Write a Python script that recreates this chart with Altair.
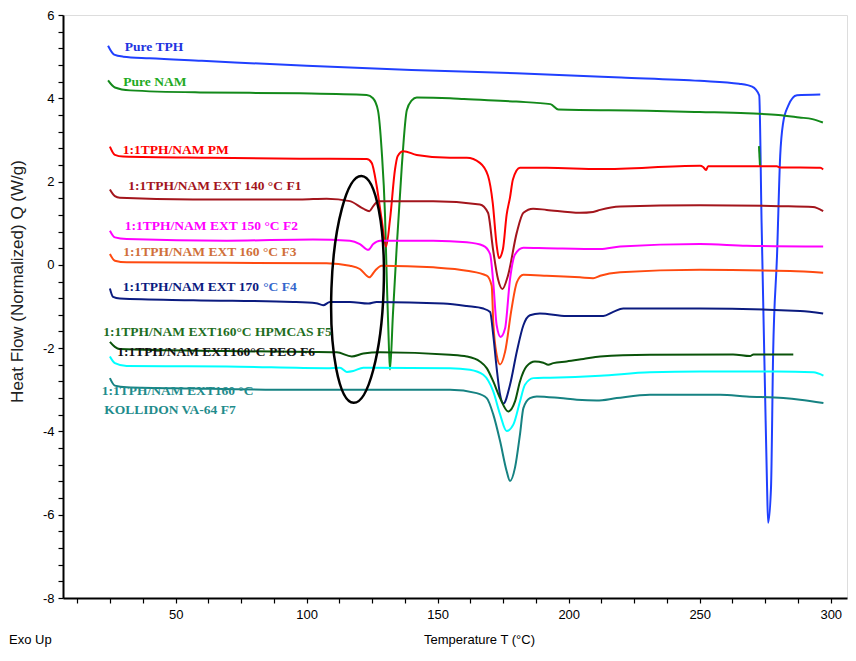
import altair as alt
import pandas as pd

# ---------------- data ----------------
TPH_T = [24.2, 26.5, 30, 40, 60, 100, 140, 180, 220, 250, 265, 270, 272.7, 273.6, 274.9, 275.7, 276.1,
         277.2, 278.0, 279.5, 280.7, 281.8, 283.7, 287.1, 296]
TPH_Q = [5.26, 5.05, 5.0, 4.96, 4.90, 4.78, 4.68, 4.60, 4.50, 4.42, 4.35, 4.28, 4.07, 1.02, -2.97, -5.35, -6.19,
         -5.35, -2.16, 0.23, 2.61, 3.40, 3.81, 4.07, 4.09]

NAM_T = [24.2, 26.8, 32.6, 59.3, 97.4, 122.9, 125.3, 127.2, 128.6, 129.9, 130.6, 131.4, 131.8, 132.9, 134.3,
         136.3, 138.2, 140.1, 142.0, 154.7, 160, 180, 193, 196, 230, 250, 268, 280, 288, 293, 297]
NAM_Q = [4.43, 4.26, 4.19, 4.14, 4.12, 4.08, 4.0, 3.71, 2.76, 1.18, -0.42, -2.01, -2.51, -1.20, 0.37,
         2.37, 3.71, 3.95, 4.02, 4.0, 3.98, 3.92, 3.86, 3.73, 3.70, 3.67, 3.64, 3.60, 3.54, 3.50, 3.42]

NAMX_T = [272.6, 273.0]
NAMX_Q = [2.85, 2.37]

PM_T = [24.9, 26.8, 29.9, 63.1, 97.4, 122.9, 124.8, 126.7, 128.6, 130.3, 131.8, 133.7, 134.7, 136.9, 142.0,
        154.7, 161.1, 166.1, 169.2, 171.0, 172.5, 173.4, 174.9, 176.3, 177.6, 178.7, 181.4, 191.6, 211.9,
        250.1, 251.3, 252.4, 253.2, 279.4, 280.6, 296.0, 297.1]
PM_Q = [2.84, 2.64, 2.60, 2.57, 2.55, 2.54, 2.45, 1.90, 1.09, 0.44, 1.09, 2.29, 2.61, 2.73, 2.64,
        2.57, 2.57, 2.45, 2.14, 1.49, 0.47, 0.16, 0.38, 1.20, 1.62, 2.05, 2.33, 2.33, 2.30,
        2.38, 2.35, 2.28, 2.37, 2.37, 2.34, 2.33, 2.29]

F1_T = [24.9, 26.8, 28.7, 56.6, 97.4, 107.6, 116.5, 121.6, 123.9, 125.4, 127.3, 148.3, 166.1, 169.2, 171.1,
        173.0, 174.7, 176.8, 180.2, 182.7, 186.4, 191.6, 204.3, 209.3, 212.0, 219.6, 250.1, 280.6, 293.2, 297.1]
F1_Q = [1.81, 1.65, 1.61, 1.57, 1.57, 1.59, 1.53, 1.35, 1.29, 1.41, 1.53, 1.53, 1.45, 1.25, 0.38,
        -0.34, -0.58, -0.26, 0.78, 1.25, 1.35, 1.32, 1.25, 1.27, 1.32, 1.40, 1.43, 1.41, 1.39, 1.29]

F2_T = [24.9, 26.8, 31.3, 69.5, 102.4, 116.5, 120.3, 123.5, 125.4, 128.0, 148.3, 161.1, 167.4, 170.0, 171.2,
        172.5, 174.0, 175.7, 177.6, 179.5, 182.7, 191.6, 212.0, 219.6, 250.1, 267.9, 297.1]
F2_Q = [0.82, 0.66, 0.62, 0.58, 0.61, 0.58, 0.50, 0.36, 0.50, 0.58, 0.58, 0.54, 0.46, 0.26, -0.42,
        -1.45, -1.73, -1.53, -0.34, 0.25, 0.41, 0.40, 0.38, 0.44, 0.50, 0.46, 0.44]

F3_T = [24.9, 26.8, 31.3, 107.6, 116.5, 120.3, 122.9, 123.9, 126.1, 128.6, 148.3, 161.1, 168.7, 170.6, 171.2,
        172.5, 173.8, 175.7, 178.2, 180.2, 182.7, 191.6, 204.3, 209.3, 212.0, 219.6, 250.1, 284.5, 297.1]
F3_Q = [0.26, 0.10, 0.06, 0.04, -0.02, -0.10, -0.26, -0.30, -0.14, -0.02, -0.06, -0.14, -0.26, -0.50, -1.37,
        -2.16, -2.39, -2.09, -1.05, -0.42, -0.24, -0.26, -0.30, -0.32, -0.26, -0.18, -0.12, -0.15, -0.19]

F4_T = [24.9, 26.1, 28.7, 56.7, 94.9, 103.6, 106.3, 108.9, 116.5, 123.5, 126.7, 152.1, 161.1, 167.4, 170.0,
        171.2, 172.5, 173.8, 175.1, 177.6, 180.2, 182.7, 185.2, 189.0, 199.2, 213.2, 217.0, 220.8, 250.1,
        288.3, 297.1]
F4_Q = [-0.57, -0.77, -0.81, -0.85, -0.89, -0.92, -0.97, -0.89, -0.89, -0.93, -0.89, -0.93, -0.99, -1.05, -1.13,
        -1.69, -2.48, -3.12, -3.33, -2.88, -2.08, -1.45, -1.21, -1.17, -1.23, -1.23, -1.13, -1.05, -1.05,
        -1.11, -1.17]

F5_T = [24.9, 26.8, 28.7, 69.5, 111.5, 117.2, 121.6, 128.0, 154.7, 161.1, 166.1, 168.7, 171.2, 173.8, 176.9,
        179.5, 181.4, 183.9, 187.1, 190.3, 192.2, 194.1, 199.2, 205.6, 212.0, 231.0, 262.7, 269.2, 270.5, 285.7]
F5_Q = [-1.85, -1.97, -2.02, -2.07, -2.10, -2.20, -2.13, -2.10, -2.16, -2.20, -2.32, -2.48, -2.80, -3.20, -3.52,
        -3.28, -2.80, -2.44, -2.32, -2.35, -2.40, -2.36, -2.32, -2.26, -2.20, -2.16, -2.15, -2.19, -2.15, -2.15]

F6_T = [24.9, 26.8, 31.3, 69.5, 107.6, 112.7, 115.3, 117.8, 121.6, 154.7, 162.3, 167.4, 171.2, 173.8, 176.3,
        178.9, 181.4, 183.3, 186.5, 192.9, 212.0, 231.0, 250.1, 279.4, 293.4, 297.2]
F6_Q = [-2.20, -2.36, -2.43, -2.44, -2.48, -2.47, -2.57, -2.55, -2.47, -2.48, -2.52, -2.64, -3.04, -3.59, -3.99,
        -3.83, -3.28, -2.88, -2.72, -2.71, -2.66, -2.58, -2.56, -2.56, -2.58, -2.66]

F7_T = [24.9, 26.8, 31.3, 56.7, 94.9, 154.7, 164.9, 168.7, 171.2, 173.8, 176.3, 177.6, 179.5, 181.4, 182.7,
        185.2, 187.8, 196.7, 203.1, 210.7, 218.3, 231.0, 257.8, 267.9, 281.9, 288.3, 297.2]
F7_Q = [-2.72, -2.90, -2.94, -2.97, -3.00, -3.00, -3.08, -3.20, -3.59, -4.23, -4.95, -5.19, -4.87, -4.07, -3.44,
        -3.20, -3.16, -3.20, -3.24, -3.26, -3.20, -3.12, -3.12, -3.16, -3.20, -3.24, -3.32]

SERIES = ["Pure TPH", "Pure NAM", "NAM spike", "PM", "F1", "F2", "F3", "F4", "F5", "F6", "F7"]
SERIES_T = [TPH_T, NAM_T, NAMX_T, PM_T, F1_T, F2_T, F3_T, F4_T, F5_T, F6_T, F7_T]
SERIES_Q = [TPH_Q, NAM_Q, NAMX_Q, PM_Q, F1_Q, F2_Q, F3_Q, F4_Q, F5_Q, F6_Q, F7_Q]
LINE_COLORS = ["#2040FF", "#13891A", "#13891A", "#FF0000", "#A3151C", "#FF00FF", "#FF4A10",
               "#0B1B7F", "#0A530A", "#00FFFF", "#168282"]
LINE_WIDTHS = [2, 2, 2, 2, 2, 2, 2, 2, 2, 2.6, 2]

# curve labels (annotation text)
LABEL_TEXT = ["Pure TPH", "Pure NAM", "1:1TPH/NAM PM", "1:1TPH/NAM EXT 140 °C F1",
              "1:1TPH/NAM EXT 150  °C  F2", "1:1TPH/NAM EXT 160 °C F3", "1:1TPH/NAM EXT 170",
              "°C F4", "1:1TPH/NAM EXT160°C HPMCAS F5", "1:1TPH/NAM EXT160°C PEO F6",
              "1:1TPH/NAM EXT160 °C", "KOLLIDON VA-64 F7"]
LABEL_T = [30.6, 30.0, 29.8, 31.9, 30.6, 30.0, 29.8, 83.4, 22.4, 27.7, 21.8, 22.7]
LABEL_Q = [5.24, 4.39, 2.76, 1.905, 0.94, 0.30, -0.535, -0.535, -1.61, -2.10, -3.03, -3.475]
LABEL_COLORS = ["#2233E0", "#22AA22", "#FF0000", "#A3151C", "#FF00FF", "#D0703A", "#0B1B7F",
                "#3366CC", "#1E6E1E", "#111111", "#1F8C8C", "#1F8C8C"]

X_TICKS = [12.5 * i for i in range(1, 25)]
Y_TICKS = [round(-8 + 0.4 * i, 1) for i in range(36)]

# ---------------- build tables ----------------
rows = []
for name, ts, qs in zip(SERIES, SERIES_T, SERIES_Q):
    for t, q in zip(ts, qs):
        rows.append({"series": name, "T": t, "Q": q})
curves = pd.DataFrame(rows)

labels = pd.DataFrame({"T": LABEL_T, "Q": LABEL_Q, "text": LABEL_TEXT, "color": LABEL_COLORS})
ellipse = pd.DataFrame({"T": [119.4], "Q": [-0.59]})

x_scale = alt.Scale(domain=[7, 306.2], nice=False, zero=False)
y_scale = alt.Scale(domain=[-8, 6], nice=False, zero=False)

x_axis = alt.Axis(
    values=X_TICKS, tickCount=200,
    labelExpr="datum.value % 50 == 0 ? '' + datum.value : ''",
    title="Temperature T (°C)",
    titleFont="Liberation Sans", titleFontSize=13, titleFontWeight="normal", titleColor="#000000",
    titleX=416, titleY=41, titleBaseline="middle",
    labelFont="Liberation Sans", labelFontSize=13, labelColor="#000000", labelPadding=5,
    tickSize=5, tickColor="#000000", tickWidth=1.2, domainColor="#000000", domainWidth=2,
    grid=False, labelFlush=False, labelOverlap=False,
)
y_axis = alt.Axis(
    values=Y_TICKS, tickCount=200,
    labelExpr="abs(round(datum.value * 10)) % 20 == 0 ? '' + round(datum.value) : ''",
    title="Heat Flow (Normalized)  Q  (W/g)",
    titleFont="Liberation Sans", titleFontSize=17, titleFontWeight="normal", titleColor="#222222",
    titleX=-46, titleY=266, titleAngle=-90, titleBaseline="middle", titleAlign="center",
    labelFont="Liberation Sans", labelFontSize=13, labelColor="#000000", labelPadding=4,
    tickSize=5, tickColor="#000000", tickWidth=1.2, domainColor="#000000", domainWidth=2,
    grid=False, labelFlush=False, labelOverlap=False,
)

lines = alt.Chart(curves).mark_line(interpolate="monotone").encode(
    x=alt.X("T:Q", scale=x_scale, axis=x_axis),
    y=alt.Y("Q:Q", scale=y_scale, axis=y_axis),
    color=alt.Color("series:N", scale=alt.Scale(domain=SERIES, range=LINE_COLORS), legend=None),
    strokeWidth=alt.StrokeWidth("series:N", scale=alt.Scale(domain=SERIES, range=LINE_WIDTHS), legend=None),
    detail="series:N",
)

text = alt.Chart(labels).mark_text(
    align="left", baseline="middle", font="Liberation Serif", fontSize=13.5, fontWeight="bold"
).encode(
    x=alt.X("T:Q", scale=x_scale),
    y=alt.Y("Q:Q", scale=y_scale),
    text="text:N",
    color=alt.Color("color:N", scale=None),
)

ring = alt.Chart(ellipse).mark_point(
    shape="M0,-1 A0.23,1 0 1,1 0,1 A0.23,1 0 1,1 0,-1 Z",
    size=227 * 227, filled=False, stroke="#000000", strokeWidth=2.5, opacity=1, angle=2,
).encode(
    x=alt.X("T:Q", scale=x_scale),
    y=alt.Y("Q:Q", scale=y_scale),
)

exo = alt.Chart(pd.DataFrame({"t": ["Exo Up"]})).mark_text(
    align="left", baseline="middle", font="Liberation Sans", fontSize=13, color="#000000"
).encode(x=alt.value(-54), y=alt.value(625), text="t:N")

chart = alt.layer(lines, ring, text, exo).properties(
    width=784, height=583,
    padding={"left": 55, "top": 7, "right": 1, "bottom": 50},
    autosize=alt.AutoSizeParams(type="none"),
).configure_view(stroke="#000000", strokeWidth=2).configure(background="#FFFFFF")

chart.save("out.html", embed_options={"renderer": "svg", "actions": False})
